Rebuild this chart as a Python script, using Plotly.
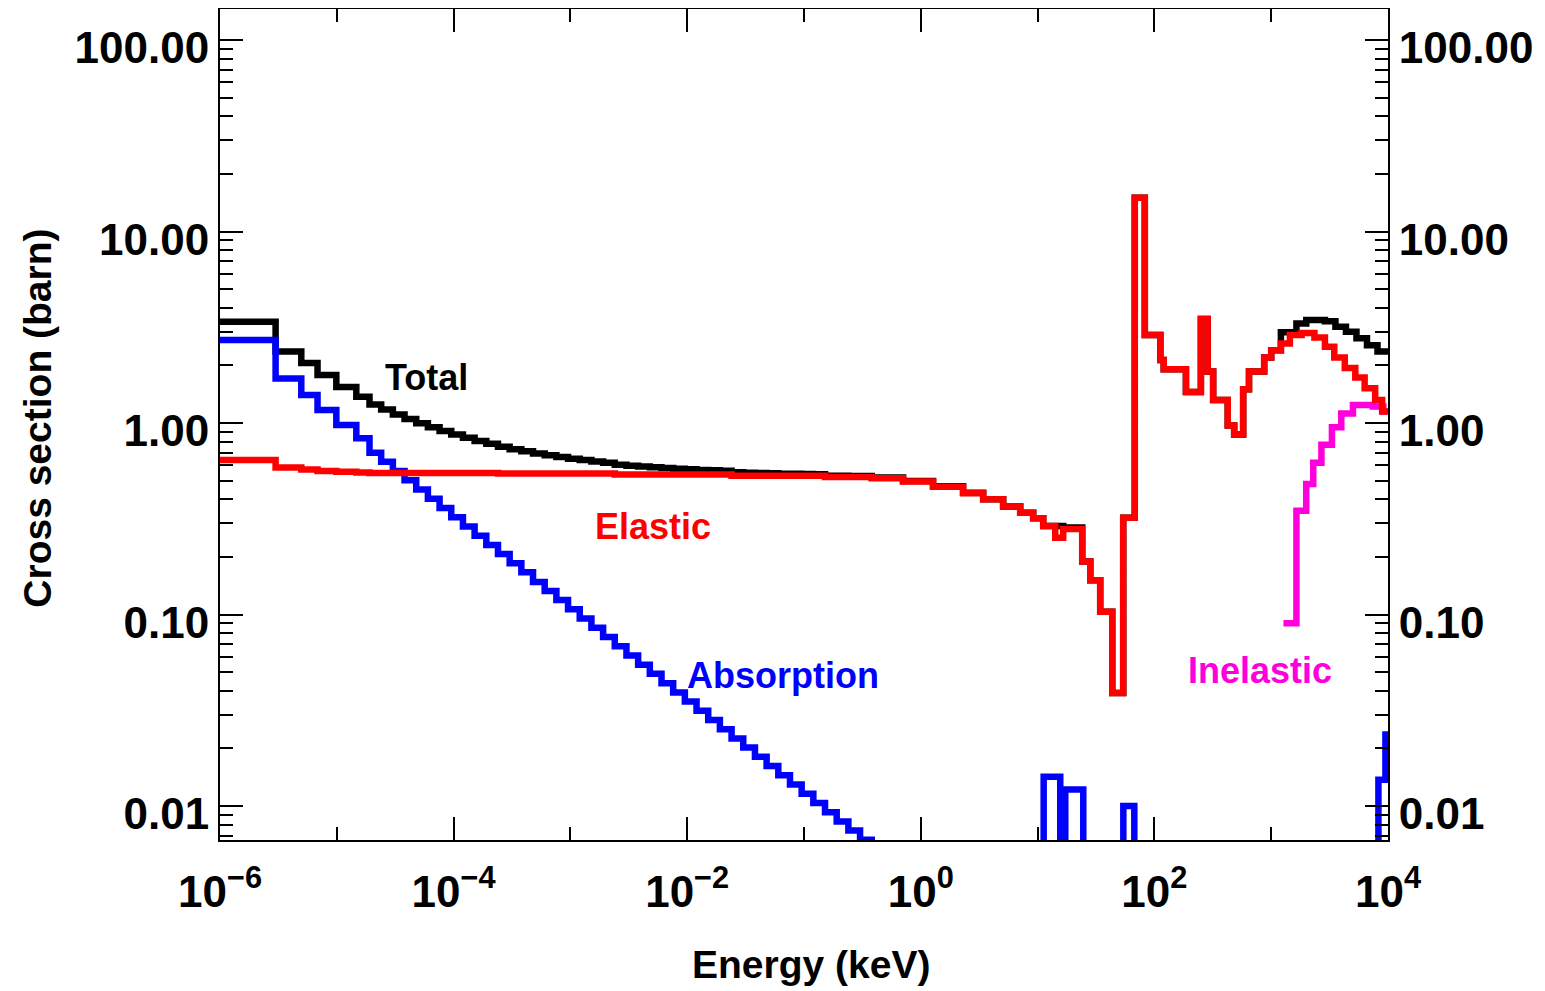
import subprocess
import plotly.graph_objects as go

# ---------------- data (log10 of energy in keV for bin edges; cross sections in barn) ----------------
coarse_log_edges = [-6.0, -5.524, -5.304, -5.165, -5.004, -4.833]
fine_log_edges = [-4.72, -4.62, -4.52, -4.42, -4.32, -4.22, -4.12, -4.02, -3.92, -3.82,
                  -3.72, -3.62, -3.52, -3.42, -3.32, -3.22, -3.12, -3.02, -2.92, -2.82,
                  -2.72, -2.62, -2.52, -2.42, -2.32, -2.22, -2.12, -2.02, -1.92, -1.82,
                  -1.72, -1.62, -1.52, -1.42, -1.32, -1.22, -1.12, -1.02, -0.92, -0.82,
                  -0.72, -0.62, -0.52, -0.42]
high_log_edges = [-0.152, 0.105, 0.362, 0.534, 0.705, 0.851, 0.962, 1.048, 1.151, 1.219,
                  1.382, 1.451, 1.536, 1.639, 1.733, 1.832, 1.918, 2.051, 2.080, 2.270,
                  2.398, 2.456, 2.503, 2.628, 2.683, 2.760, 2.810, 2.940, 3.000, 3.083,
                  3.160, 3.260, 3.370, 3.460, 3.540, 3.630, 3.720, 3.800, 3.890, 3.950,
                  4.000]
total_right_log_edges = [3.216, 3.30, 3.46, 3.55, 3.64, 3.73, 3.82, 3.91, 4.0]
absorption_right_log_edges = [1.052, 1.194, 1.237, 1.391, 1.734, 1.828, 3.918, 3.978, 4.0]
inelastic_log_edges = [3.105, 3.216, 3.30, 3.36, 3.43, 3.52, 3.60, 3.70, 3.87, 3.96, 4.0]

total_values = (
    [3.38, 2.36, 2.06, 1.78, 1.54, 1.37]
    + [1.248, 1.175, 1.109, 1.050, 0.997, 0.950, 0.908, 0.870, 0.837, 0.806,
       0.779, 0.752, 0.730, 0.711, 0.693, 0.678, 0.664, 0.651, 0.640, 0.630,
       0.621, 0.606, 0.599, 0.593, 0.587, 0.582, 0.577, 0.573, 0.569, 0.566,
       0.563, 0.553, 0.550, 0.548, 0.546, 0.544, 0.543, 0.542, 0.540, 0.531,
       0.530, 0.529, 0.529]
    + [0.52, 0.498, 0.467, 0.432, 0.40, 0.366, 0.34, 0.318, 0.29, 0.29,
       0.285, 0.189, 0.151, 0.1035, 0.0389, 0.32, 15.0, 2.88, 2.13, 1.91,
       1.45, 3.49, 1.86, 1.32, 0.97, 0.87, 1.5, 1.86, 2.2, 2.4]
    + [2.98, 3.31, 3.45, 3.40, 3.18, 3.0, 2.77, 2.55, 2.36]
)
elastic_values = (
    [0.641, 0.585, 0.572, 0.562, 0.556, 0.551]
    + [0.548, 0.548, 0.548, 0.548, 0.548, 0.548, 0.548, 0.548, 0.548, 0.548,
       0.548, 0.545, 0.545, 0.545, 0.545, 0.545, 0.545, 0.545, 0.545, 0.545,
       0.545, 0.538, 0.538, 0.538, 0.538, 0.538, 0.538, 0.538, 0.538, 0.538,
       0.538, 0.530, 0.530, 0.530, 0.530, 0.530, 0.530, 0.530, 0.530, 0.522,
       0.522, 0.522, 0.522]
    + [0.515, 0.495, 0.465, 0.43, 0.40, 0.366, 0.34, 0.318, 0.29, 0.252,
       0.28, 0.189, 0.151, 0.1035, 0.0389, 0.32, 15.0, 2.88, 2.13, 1.91,
       1.45, 3.49, 1.86, 1.32, 0.97, 0.87, 1.5, 1.86, 2.2, 2.4,
       2.6, 2.88, 2.95, 2.8, 2.5, 2.2, 1.94, 1.73, 1.52, 1.32,
       1.15]
)
absorption_values = (
    [2.71, 1.71, 1.40, 1.17, 0.976, 0.832]
    + [0.700, 0.627, 0.561, 0.502, 0.449, 0.402, 0.360, 0.322, 0.2885, 0.258,
       0.231, 0.207, 0.185, 0.166, 0.148, 0.1328, 0.1189, 0.1064, 0.0952, 0.0852,
       0.0763, 0.0683, 0.0611, 0.0547, 0.0490, 0.0438, 0.0392, 0.0351, 0.0314, 0.0281,
       0.0252, 0.0225, 0.0202, 0.0181, 0.0162, 0.01446, 0.01295, 0.01159, 0.01037, 0.00928,
       0.00831, 0.00744, 0.00666]
    + [0.004, 0.0142, 0.004, 0.0122, 0.003, 0.0100, 0.002, 0.0137, 0.0236]
)
inelastic_values = [0.090, 0.348, 0.48, 0.62, 0.77, 0.95, 1.12, 1.24, 1.22, 1.15]

total_log_edges = coarse_log_edges + fine_log_edges + high_log_edges[:30] + total_right_log_edges
elastic_log_edges = coarse_log_edges + fine_log_edges + high_log_edges
absorption_log_edges = coarse_log_edges + fine_log_edges + absorption_right_log_edges

x_tick_values = [1e-6, 1e-4, 1e-2, 1e0, 1e2, 1e4]
x_tick_text = ["10<sup>−6</sup>", "10<sup>−4</sup>", "10<sup>−2</sup>",
               "10<sup>0</sup>", "10<sup>2</sup>", "10<sup>4</sup>"]
x_minor_values = [1e-5, 1e-3, 1e-1, 1e1, 1e3]
y_tick_values = [0.01, 0.1, 1, 10, 100]
y_tick_text = ["0.01", "0.10", "1.00", "10.00", "100.00"]
y_minor_values = [m * 10.0 ** d for d in range(-3, 3) for m in range(2, 10)]

labels = [("Total", -4.23, 0.240, "#000000"),
          ("Elastic", -2.294, -0.543, "#ff0000"),
          ("Absorption", -1.18, -1.316, "#0000ff"),
          ("Inelastic", 2.907, -1.29, "#ff00dd")]

# ---------------- font choice (narrow face if the system has one) ----------------
try:
    _fams = subprocess.run(["fc-list", ":", "family"], capture_output=True,
                           text=True, timeout=10).stdout
except Exception:
    _fams = ""
if "Liberation Sans Narrow" in _fams:
    FONT, SCALE = "Liberation Sans Narrow", 1.2
else:
    FONT, SCALE = "Liberation Sans", 1.0


def fs(size):
    return round(size * SCALE)


def step_xy(log_edges, values):
    assert len(log_edges) == len(values) + 1, (len(log_edges), len(values))
    xs = [10.0 ** e for e in log_edges]
    ys = list(values) + [values[-1]]
    return xs, ys


fig = go.Figure()
series = [("Total", total_log_edges, total_values, "#000000"),
          ("Absorption", absorption_log_edges, absorption_values, "#0000ff"),
          ("Inelastic", inelastic_log_edges, inelastic_values, "#ff00dd"),
          ("Elastic", elastic_log_edges, elastic_values, "#ff0000")]
for name, edges, vals, col in series:
    xs, ys = step_xy(edges, vals)
    fig.add_trace(go.Scatter(x=xs, y=ys, mode="lines", name=name,
                             line=dict(color=col, width=6.5, shape="hv"),
                             showlegend=False))

# dummy trace for the right-hand axis
fig.add_trace(go.Scatter(x=[1e-6], y=[1], yaxis="y2", mode="markers",
                         marker=dict(opacity=0), showlegend=False, hoverinfo="skip"))

tickfont = dict(family=FONT, size=fs(44), color="black", weight="bold")
Y_RANGE = [-2.1775, 2.1619]
yaxis_common = dict(
    type="log", range=Y_RANGE, tickvals=y_tick_values, ticktext=y_tick_text,
    ticks="inside", ticklen=23, tickwidth=2, tickcolor="black",
    showgrid=False, zeroline=False, showline=True, linecolor="black", linewidth=2,
    tickfont=tickfont, ticklabelstandoff=0, ticklabelshift=8, automargin=False,
    minor=dict(tickvals=y_minor_values, ticks="inside", ticklen=13, tickwidth=2,
               tickcolor="black", showgrid=False),
)

# the page body adds an 8 px offset, so the margins are trimmed by that amount
fig.update_layout(
    width=1545, height=991,
    margin=dict(l=212, r=165, t=1, b=159, autoexpand=False),
    paper_bgcolor="white", plot_bgcolor="white",
    xaxis=dict(
        type="log", range=[-6, 4], tickvals=x_tick_values, ticktext=x_tick_text,
        ticks="inside", ticklen=23, tickwidth=2, tickcolor="black",
        showgrid=False, zeroline=False, showline=True, linecolor="black", linewidth=2,
        mirror="ticks", automargin=False,
        tickfont=dict(family=FONT, size=fs(44), color="black", weight="bold"),
        ticklabelstandoff=12,
        minor=dict(tickvals=x_minor_values, ticks="inside", ticklen=13, tickwidth=2,
                   tickcolor="black", showgrid=False),
    ),
    yaxis=dict(**yaxis_common, side="left"),
    yaxis2=dict(**yaxis_common, side="right", overlaying="y", anchor="x"),
)

for text, lx, ly, col in labels:
    fig.add_annotation(x=lx, y=ly, xref="x", yref="y", text=text, showarrow=False,
                       font=dict(family=FONT, size=fs(36), color=col, weight="bold"),
                       xanchor="center", yanchor="middle")

fig.add_annotation(x=0.506, y=-0.150, xref="paper", yref="paper", text="Energy (keV)",
                   showarrow=False, xanchor="center", yanchor="middle",
                   font=dict(family=FONT, size=fs(39), color="black", weight="bold"))
fig.add_annotation(x=-0.1558, y=0.507, xref="paper", yref="paper", text="Cross section (barn)",
                   showarrow=False, xanchor="center", yanchor="middle", textangle=-90,
                   font=dict(family=FONT, size=fs(39), color="black", weight="bold"))

fig.write_html("out.html")
